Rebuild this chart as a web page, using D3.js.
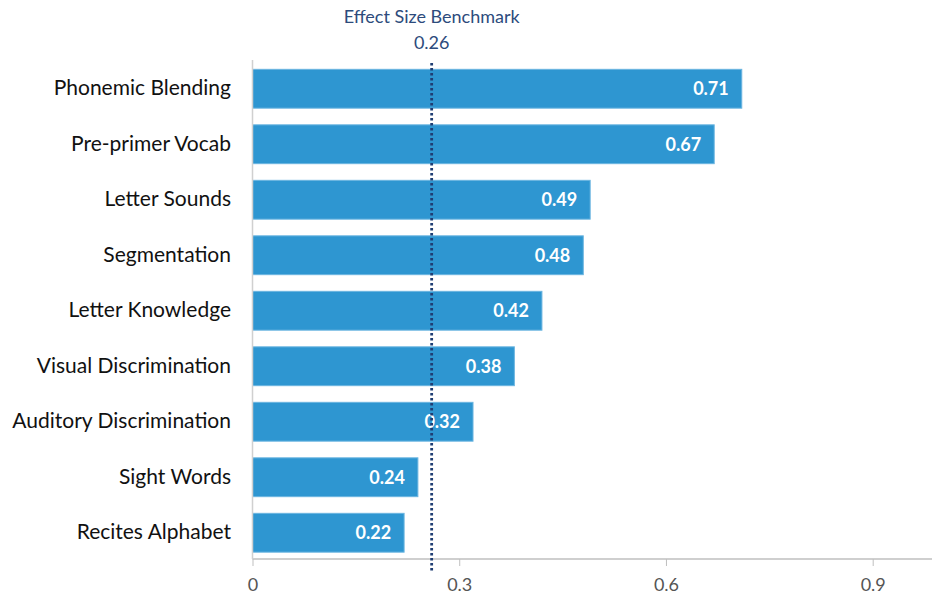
<!DOCTYPE html>
<html>
<head>
<meta charset="utf-8">
<script src="https://cdn.jsdelivr.net/npm/d3@7"></script>
<style>
  body { margin: 0; background: #fff; }
  svg { display: block; font-family: Lato, "Open Sans", sans-serif; }
</style>
</head>
<body>
<div id="chart"></div>
<script>
  var categories = ['Phonemic Blending', 'Pre-primer Vocab', 'Letter Sounds', 'Segmentation',
    'Letter Knowledge', 'Visual Discrimination', 'Auditory Discrimination', 'Sight Words', 'Recites Alphabet'];
  var values = [0.71, 0.67, 0.49, 0.48, 0.42, 0.38, 0.32, 0.24, 0.22];
  var tickValues = [0, 0.3, 0.6, 0.9];
  var benchmark = 0.26;
  var benchmarkTitle = 'Effect Size Benchmark';

  var width = 932, height = 596;
  var svg = d3.select('#chart').append('svg')
    .attr('width', width).attr('height', height);

  var x = d3.scaleLinear().domain([0, 0.9]).range([252.5, 872.7]);
  var y = d3.scaleBand().domain(categories).range([61, 560.5])
    .paddingInner(0.3).paddingOuter(0.15);
  var axisY = 559;

  // bars
  svg.selectAll('rect.bar').data(values).enter().append('rect')
    .attr('class', 'bar')
    .attr('x', x(0))
    .attr('y', function(d, i) { return y(categories[i]); })
    .attr('width', function(d) { return x(d) - x(0); })
    .attr('height', y.bandwidth())
    .attr('fill', '#2e96d1')
    .attr('stroke', '#6bb5e0')
    .attr('stroke-width', 1);

  // category labels
  svg.selectAll('text.cat').data(categories).enter().append('text')
    .attr('class', 'cat')
    .attr('x', 231)
    .attr('y', function(d) { return y(d) + y.bandwidth() / 2; })
    .attr('dy', '0.3em')
    .attr('text-anchor', 'end')
    .attr('font-size', 21)
    .attr('fill', '#111')
    .text(function(d) { return d; });

  // x axis
  var xAxis = d3.axisBottom(x).tickValues(tickValues).tickSize(7).tickPadding(12)
    .tickFormat(function(d) { return d === 0 ? '0' : d3.format('.1f')(d); });
  var ax = svg.append('g').attr('transform', 'translate(0,' + axisY + ')').call(xAxis);
  ax.select('.domain').remove();
  ax.selectAll('.tick line').attr('stroke', '#bfbfbf');
  ax.selectAll('.tick text').attr('font-size', 18).attr('fill', '#555').attr('font-family', 'Lato, sans-serif');
  svg.append('line')
    .attr('x1', x(0)).attr('x2', width)
    .attr('y1', axisY).attr('y2', axisY)
    .attr('stroke', '#bfbfbf').attr('stroke-width', 1.5);
  svg.append('line')
    .attr('x1', x(0)).attr('x2', x(0))
    .attr('y1', 60).attr('y2', axisY)
    .attr('stroke', '#d0d0d0').attr('stroke-width', 1.5);

  // value labels
  svg.selectAll('text.val').data(values).enter().append('text')
    .attr('class', 'val')
    .attr('x', function(d) { return x(d) - 13; })
    .attr('y', function(d, i) { return y(categories[i]) + y.bandwidth() / 2; })
    .attr('dy', '0.36em')
    .attr('text-anchor', 'end')
    .attr('font-size', 18)
    .attr('font-weight', 'bold')
    .attr('fill', '#fff')
    .text(function(d) { return d3.format('.2f')(d); });

  // benchmark line
  svg.append('line')
    .attr('x1', x(benchmark)).attr('x2', x(benchmark))
    .attr('y1', 63).attr('y2', 573)
    .attr('stroke', '#1f3d73').attr('stroke-width', 2.8)
    .attr('stroke-dasharray', '2.5,2.5');
  svg.append('text')
    .attr('x', x(benchmark)).attr('y', 23)
    .attr('text-anchor', 'middle').attr('font-size', 18).attr('fill', '#2d4b7c')
    .text(benchmarkTitle);
  svg.append('text')
    .attr('x', x(benchmark)).attr('y', 49)
    .attr('text-anchor', 'middle').attr('font-size', 18).attr('fill', '#2d4b7c')
    .text(d3.format('.2f')(benchmark));
</script>
</body>
</html>
